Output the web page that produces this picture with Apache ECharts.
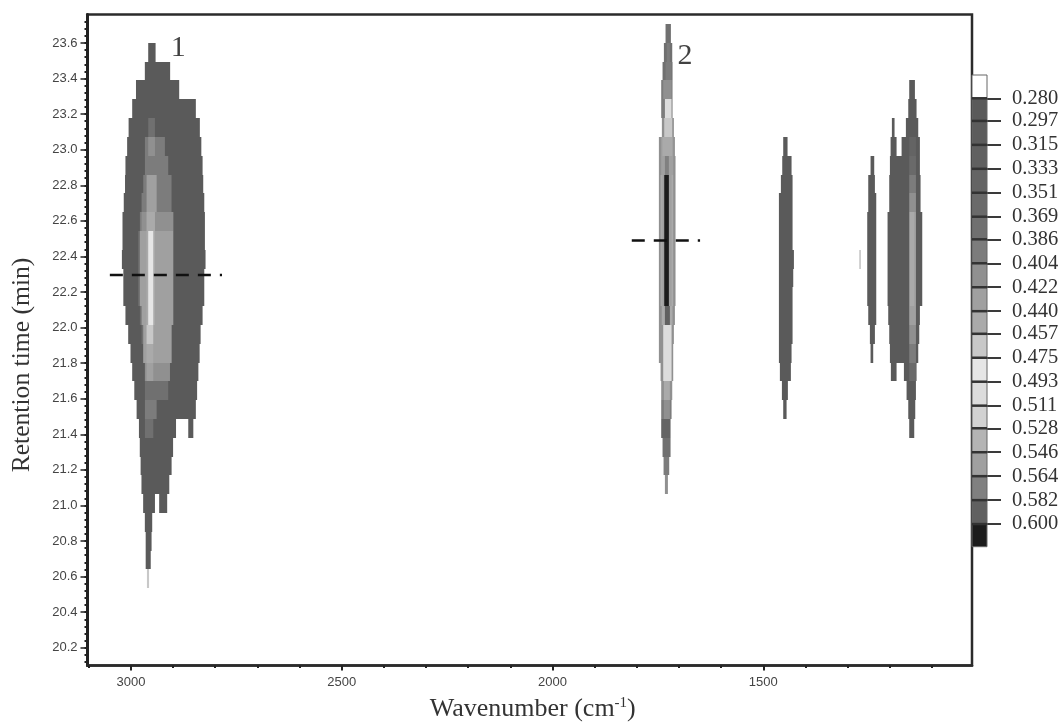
<!DOCTYPE html>
<html><head><meta charset="utf-8">
<style>html,body{margin:0;padding:0;background:#fff}#c{width:1062px;height:722px;filter:blur(0.5px)}</style>
<script src="https://cdn.jsdelivr.net/npm/echarts@6/dist/echarts.min.js"></script>
</head><body><div id="c"></div>
<script>
// scan edges (min): scanEdges[i+1] is the upper edge of row i, scanEdges[i+2] the lower edge
const scanEdges = [23.706,23.600,23.494,23.389,23.283,23.177,23.071,22.966,22.860,22.754,22.649,22.543,22.437,22.331,22.226,22.120,22.014,21.909,21.803,21.697,21.591,21.486,21.380,21.274,21.169,21.063,20.957,20.851,20.746,20.640,20.534];
const xMajorTicks = [3000,2500,2000,1500];
const yMajorTicks = [20.2,20.4,20.6,20.8,21.0,21.2,21.4,21.6,21.8,22.0,22.2,22.4,22.6,22.8,23.0,23.2,23.4,23.6];
const colorbarLevels = [0.280,0.297,0.315,0.333,0.351,0.369,0.386,0.404,0.422,0.440,0.457,0.475,0.493,0.511,0.528,0.546,0.564,0.582,0.600];
// each cell: [row, wavenumber left, wavenumber right, value]
const peak1Outline = [
[0,2959,2941.5,.29],[1,2967,2907,.29],[2,2988,2885.5,.29],[3,2997,2846,.28],[4,3005.5,2836.5,.29],[5,3009,2833,.29],[6,3013,2830,.29],[7,3014,2828.5,.29],[8,3017,2826,.29],[9,3020,2824.5,.29],[10,3020,2824.5,.29],[11,3021.4,2823,.29],[12,3018,2826,.29],[13,3018,2826,.29],[14,3013,2830,.29],[15,3006.5,2834.7,.29],[16,3001,2837,.29],[17,2997,2840,.29],[18,2992,2843,.29],[19,2986.5,2846,.29],[20,2981,2893,.29],[20,2864,2852,.29],[21,2979,2900,.29],[22,2977,2903.5,.29],[23,2975,2909,.29],[24,2971,2943,.29],[24,2933,2914,.29],[25,2967,2949.5,.29],[26,2965,2951,.29],[27,2965,2953,.29],[28,2962,2957,.46]
];
const peak1Inner = [
[4,2959,2943,.37],
[5,2966.8,2919.4,.386],[6,2966.8,2911.5,.39],[7,2970.8,2903.6,.39],[8,2974.7,2903.6,.39],[9,2978.7,2899.6,.39],[10,2982.6,2899.6,.37],[11,2982.6,2899.6,.37],[12,2982.6,2899.6,.37],[13,2982.6,2899.6,.37],[14,2978.7,2899.6,.37],[15,2974.7,2903.6,.37],[16,2970.8,2903.6,.37],[17,2966.8,2907.5,.386],[18,2966.8,2911.5,.37],[19,2966.8,2939,.386],[20,2966.8,2947,.37],
[9,2974.7,2899.6,.404],[10,2978.7,2899.6,.422],[11,2978.7,2899.6,.422],[12,2978.7,2899.6,.422],[13,2978.7,2899.6,.422],[14,2974.7,2899.6,.422],[15,2970.8,2903.6,.422],[16,2970.8,2903.6,.422],[17,2966.8,2907.5,.404],
[5,2959,2943,.404],[7,2962.9,2939,.422],[8,2962.9,2939,.43],[9,2962.9,2943,.445],[10,2962.9,2943,.445],[11,2962.9,2943,.445],[12,2962.9,2943,.445],[13,2962.9,2943,.445],[14,2962.9,2943,.445],[15,2962.9,2947,.46],[16,2962.9,2947,.445],[17,2962.9,2947,.422],
[10,2959,2947,.48],[11,2959,2947,.48],[12,2959,2947,.48],[13,2959,2947,.48],[14,2959,2947,.48]
];
const peak2Cells = [
[-1,1731.9,1719.2,.37],[0,1735.8,1716,.37],[1,1739,1715.3,.37],[2,1742.2,1715.3,.386],[3,1742.2,1715.3,.39],[4,1740.6,1712.1,.41],[5,1747.7,1709.7,.41],[6,1747.7,1708.2,.41],[7,1747.7,1708.2,.41],[8,1747.7,1708.2,.41],[9,1747.7,1708.2,.41],[10,1747.7,1708.2,.41],[11,1747.7,1708.2,.41],[12,1747.7,1708.2,.41],[13,1747.7,1708.2,.41],[14,1747.7,1709.7,.41],[15,1747.7,1712.1,.41],[16,1747.7,1713.7,.41],[17,1743.7,1713.7,.41],[18,1742.2,1716,.404],[19,1742.2,1717.6,.39],[20,1742.2,1720,.35],[21,1739,1720,.37],[22,1736.6,1723.2,.39],[23,1733.4,1726.3,.41],
[0,1729,1721.6,.39],[1,1731.9,1717.6,.39],[2,1737.4,1717.6,.41],[3,1733.4,1717.6,.5],[4,1735,1716,.46],[5,1742.2,1713.7,.43],[6,1742.2,1713.7,.43],[7,1743.7,1713.7,.44],[8,1743.7,1713.7,.44],[9,1743.7,1713.7,.44],[10,1743.7,1713.7,.44],[11,1743.7,1713.7,.44],[12,1743.7,1713.7,.44],[13,1743.7,1713.7,.44],[14,1741,1715.3,.445],[15,1737.4,1717.6,.5],[16,1737.4,1717.6,.5],[17,1737.4,1717.6,.5],[18,1735.8,1721.6,.44],[19,1735.8,1721.6,.41],
[5,1739,1716,.445],[6,1733.4,1724,.565],[7,1739,1717.6,.55],[8,1739,1717.6,.55],[9,1739,1717.6,.55],[10,1739,1717.6,.55],[11,1739,1717.6,.55],[12,1739,1717.6,.55],[13,1739,1717.6,.55],[14,1733.4,1721.6,.585],
[7,1735,1724,.6],[8,1735,1724,.6],[9,1735,1724,.6],[10,1735,1724,.6],[11,1735,1724,.6],[12,1735,1724,.6],[13,1735,1724,.6]
];
const peak3Cells = [
[5,1452.8,1442.5,.29],[6,1455.1,1433,.29],[7,1458.3,1430.6,.29],[8,1463,1430.6,.29],[9,1463,1430.6,.29],[10,1463,1430.6,.29],[11,1463,1427.4,.29],[12,1463,1429,.29],[13,1463,1430.6,.29],[14,1463,1430.6,.29],[15,1463,1430.6,.29],[16,1463,1433,.29],[17,1460.7,1434.6,.29],[18,1455.9,1441.7,.29],[19,1452.8,1444.8,.29]
];
const peak4Cells = [[11,1272.5,1268.5,.46]];
const peak5Cells = [
[6,1245.6,1236.9,.29],[7,1251.1,1235.3,.29],[8,1251.1,1232.1,.29],[9,1253.5,1232.1,.29],[10,1253.5,1232.1,.29],[11,1253.5,1232.1,.29],[12,1253.5,1232.1,.29],[13,1253.5,1232.1,.29],[14,1251.1,1232.1,.29],[15,1247.2,1235.3,.29],[16,1245.6,1239.3,.29]
];
const peak6Cells = [
[2,1153.9,1140.4,.29],[3,1156.2,1136.5,.29],[4,1195,1188.7,.29],[4,1161.8,1132.5,.29],[5,1198.1,1183.9,.29],[5,1172,1128.6,.29],[6,1199.7,1128.6,.29],[7,1201.3,1127,.29],[8,1201.3,1127,.29],[9,1205.3,1123,.29],[10,1205.3,1123,.29],[11,1205.3,1123,.29],[12,1205.3,1123,.29],[13,1205.3,1123,.29],[14,1203.7,1128.6,.29],[15,1201.3,1130.1,.29],[16,1199.7,1132.5,.29],[17,1197.4,1183.9,.29],[17,1166.5,1136.5,.29],[18,1160.2,1138,.29],[19,1156.2,1139.6,.29],[20,1153.9,1142,.29],
[5,1153.9,1138,.333],[6,1153.9,1138,.351],[7,1153.9,1138,.39],[8,1153.9,1138,.41],[9,1153.9,1138,.422],[10,1153.9,1138,.422],[11,1153.9,1138,.422],[12,1153.9,1138,.422],[13,1153.9,1138,.422],[14,1153.9,1138,.422],[15,1153.9,1138,.41],[16,1153.9,1138,.39],[17,1153.9,1138,.351],
[9,1152.3,1142,.445],[10,1152.3,1142,.445],[11,1152.3,1142,.445],[12,1152.3,1142,.445],[13,1152.3,1142,.445]
];
// dashed marker lines [wavenumber, minutes]
const marker1 = [[3050,22.296],[2784,22.296]];
const marker2 = [[1812,22.49],[1650,22.49]];
const peakLabels = [{name:'1',value:[2888,23.57]},{name:'2',value:[1686,23.525]}];

const levelColors = ['#5a5a5a','#5c5c5c','#606060','#646464','#6a6a6a','#707070','#7c7c7c','#909090','#a0a0a0','#aaaaaa','#c8c8c8','#e6e6e6','#dcdcdc','#d2d2d2','#b4b4b4','#a0a0a0','#808080','#606060','#1c1c1c'];
function colorOf(v){let k=0;for(let i=0;i<colorbarLevels.length;i++){if(v>=colorbarLevels[i])k=i;}return levelColors[k];}
const cells=[...peak1Outline,...peak1Inner,...peak2Cells,...peak3Cells,...peak4Cells,...peak5Cells,...peak6Cells]
  .map(c=>[c[1],c[2],scanEdges[c[0]+1],scanEdges[c[0]+2],c[3]]);

const XMIN=1005,XMAX=3103,YMIN=20.1,YMAX=23.76;
const xMinor=[];for(let v=1100;v<=3100;v+=100)xMinor.push(v);
const yMinor=[];for(let v=2012;v<=2372;v+=4)yMinor.push(v/100);
const SERIF='"Liberation Serif"',SANS='"Liberation Sans"';
const BAR_MIN=0.2625,BAR_MAX=0.617;
const barCells=[[BAR_MIN,colorbarLevels[0],'#ffffff']];
colorbarLevels.forEach((l,i)=>barCells.push([l,i+1<colorbarLevels.length?colorbarLevels[i+1]:BAR_MAX,levelColors[i]]));

const chart=echarts.init(document.getElementById('c'),null,{renderer:'canvas'});
chart.setOption({
 animation:false,backgroundColor:'#fff',
 grid:[
  {left:87.5,top:14.5,width:884.5,height:651,show:true,borderColor:'#2b2b2b',borderWidth:2.5,backgroundColor:'#fff',containLabel:false,outerBoundsMode:'none'},
  {left:972,top:75,width:15,height:471.7,show:false,outerBoundsMode:'none'}
 ],
 xAxis:[
  {gridIndex:0,type:'value',inverse:true,min:XMIN,max:XMAX,position:'bottom',splitLine:{show:false},
   axisLine:{show:true,onZero:false,lineStyle:{color:'#2b2b2b',width:2.5}},
   axisTick:{show:true,length:5,customValues:xMajorTicks,lineStyle:{color:'#222',width:2}},
   axisLabel:{show:true,customValues:xMajorTicks,margin:10,fontFamily:SANS,fontSize:13,color:'#444',formatter:v=>String(v)},
   name:'{a|Wavenumber (cm}{s|-1}{a|)}',nameLocation:'middle',nameGap:30,
   nameTextStyle:{padding:[0,0,0,6],rich:{a:{fontFamily:SERIF,fontSize:26,color:'#333',lineHeight:28},s:{fontFamily:SERIF,fontSize:15,color:'#333',verticalAlign:'top',lineHeight:28}}}},
  {gridIndex:0,type:'value',inverse:true,min:XMIN,max:XMAX,position:'bottom',splitLine:{show:false},
   axisLine:{show:false,onZero:false},axisLabel:{show:false},
   axisTick:{show:true,length:2.5,customValues:xMinor,lineStyle:{color:'#222',width:2}}},
  {gridIndex:1,type:'value',min:0,max:1,show:false}
 ],
 yAxis:[
  {gridIndex:0,type:'value',min:YMIN,max:YMAX,position:'left',splitLine:{show:false},
   axisLine:{show:true,onZero:false,lineStyle:{color:'#222',width:3}},
   axisTick:{show:true,length:7,customValues:yMajorTicks,lineStyle:{color:'#222',width:1.5}},
   axisLabel:{show:true,customValues:yMajorTicks,margin:10,fontFamily:SANS,fontSize:13,color:'#444',formatter:v=>v.toFixed(1)},
   name:'Retention time (min)',nameLocation:'middle',nameGap:52,
   nameTextStyle:{fontFamily:SERIF,fontSize:25.6,color:'#333',padding:[0,50,0,0]}},
  {gridIndex:0,type:'value',min:YMIN,max:YMAX,position:'left',splitLine:{show:false},
   axisLine:{show:false,onZero:false},axisLabel:{show:false},
   axisTick:{show:true,length:3,customValues:yMinor,lineStyle:{color:'#222',width:2}}},
  {gridIndex:1,type:'value',inverse:true,min:BAR_MIN,max:BAR_MAX,position:'right',splitLine:{show:false},
   axisLine:{show:false,onZero:false},
   axisTick:{show:true,length:14,customValues:colorbarLevels,lineStyle:{color:'#3a3a3a',width:2}},
   axisLabel:{show:true,customValues:colorbarLevels,margin:25,fontFamily:SERIF,fontSize:20.5,color:'#333',padding:[3,0,0,0],formatter:v=>v.toFixed(3)}}
 ],
 series:[
  {type:'custom',name:'FTIR map',xAxisIndex:0,yAxisIndex:0,clip:true,data:cells,silent:true,
   encode:{x:[0,1],y:[2,3]},
   renderItem:(p,api)=>{
     const a=api.coord([api.value(0),api.value(2)]),b=api.coord([api.value(1),api.value(3)]);
     const x=a[0],y=Math.round(a[1]),w=b[0]-a[0],h=Math.round(b[1])-y;
     return {type:'rect',shape:{x,y,width:w,height:h},style:{fill:colorOf(api.value(4))}};
   }},
  {type:'line',name:'marker 1',xAxisIndex:0,yAxisIndex:0,data:marker1,symbol:'none',silent:true,z:5,lineStyle:{color:'#111',width:2.5,type:[13,9]}},
  {type:'line',name:'marker 2',xAxisIndex:0,yAxisIndex:0,data:marker2,symbol:'none',silent:true,z:5,lineStyle:{color:'#111',width:2.5,type:[13,9]}},
  {type:'scatter',name:'peak labels',xAxisIndex:0,yAxisIndex:0,data:peakLabels,symbolSize:0,silent:true,z:6,
   label:{show:true,position:'inside',formatter:'{b}',fontFamily:SERIF,fontSize:30,color:'#111'}},
  {type:'custom',name:'colour bar',xAxisIndex:2,yAxisIndex:2,data:barCells,silent:true,encode:{y:[0,1]},z:3,
   renderItem:(p,api)=>{
     const a=api.coord([0,api.value(0)]),b=api.coord([1,api.value(1)]);
     return {type:'rect',shape:{x:a[0],y:a[1],width:b[0]-a[0],height:b[1]-a[1]},
       style:{fill:barCells[p.dataIndex][2],stroke:'#666',lineWidth:1}};
   }},
  {type:'custom',name:'colour bar ticks',xAxisIndex:2,yAxisIndex:2,data:colorbarLevels.map(v=>[v]),silent:true,encode:{y:0},z:4,
   renderItem:(p,api)=>{
     const a=api.coord([0,api.value(0)]),b=api.coord([1,api.value(0)]);
     return {type:'line',shape:{x1:a[0],y1:a[1],x2:b[0],y2:b[1]},style:{stroke:'#333',lineWidth:2.5}};
   }}
 ]
});
</script></body></html>
